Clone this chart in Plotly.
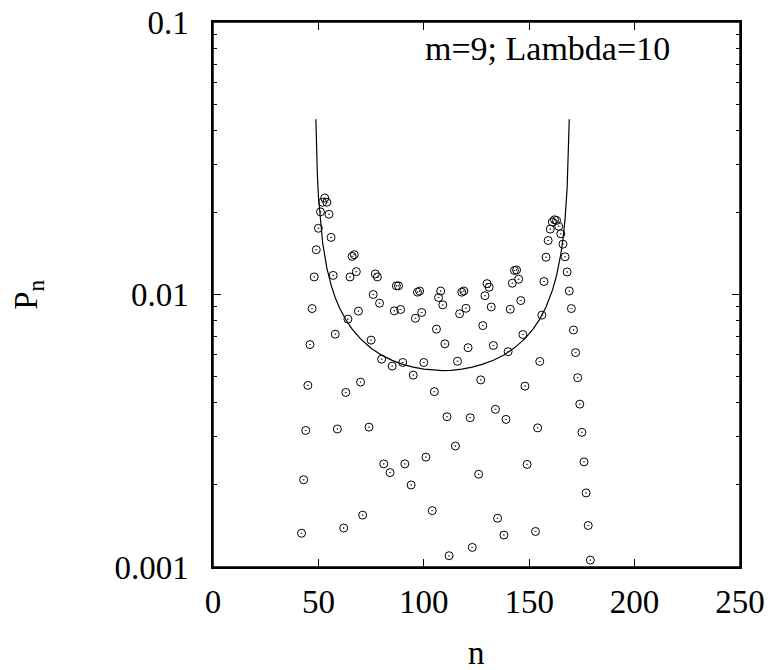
import plotly.graph_objects as go

# Discrete distribution P_n (points)
n_pts = [42, 43, 44, 45, 46, 47, 48, 49, 50, 51, 52, 53, 54, 55, 56, 57, 58, 59,
         62, 63, 64, 65, 66, 67, 68, 69, 70, 71,
         74, 75, 76, 77, 78, 79, 80, 81,
         84, 85, 86, 87, 88, 89, 90, 91,
         94, 95, 96, 97, 98, 99, 100, 101,
         104, 105, 106, 107, 108, 109, 110, 111, 112,
         115, 116, 117, 118, 119, 120, 121, 122, 123,
         126, 127, 128, 129, 130, 131, 132, 133, 134, 135,
         138, 139, 140, 141, 142, 143, 144, 145, 146, 147, 148, 149,
         153, 154, 155, 156, 157, 158, 159, 160, 161, 162, 163, 164, 165, 166,
         167, 168, 169, 170, 171, 172, 173, 174, 175, 176, 177, 178, 179]
p_pts = [0.00133, 0.00209, 0.00317, 0.00464, 0.00655, 0.00888, 0.0116, 0.0146, 0.0175,
         0.0201, 0.0218, 0.0226, 0.0218, 0.0197, 0.0162, 0.01175, 0.00715, 0.00321,
         0.00139, 0.00437, 0.00812, 0.0116, 0.0138, 0.0140, 0.01213, 0.00869, 0.00477, 0.00155,
         0.00326, 0.0068, 0.0100, 0.0119, 0.0116, 0.00929, 0.00579, 0.00239,
         0.00222, 0.00546, 0.00871, 0.01076, 0.01076, 0.00881, 0.00563, 0.00239,
         0.0020, 0.00506, 0.00818, 0.0102, 0.0103, 0.00859, 0.00563, 0.00253,
         0.00161, 0.0044, 0.00746, 0.00975, 0.0103, 0.00916, 0.00659, 0.00356, 0.0011,
         0.00278, 0.00569, 0.0085, 0.0102, 0.0103, 0.0089, 0.00638, 0.00353, 0.00118,
         0.00219, 0.00486, 0.00769, 0.0099, 0.01096, 0.01063, 0.0090, 0.0065, 0.00379, 0.00151,
         0.00131, 0.00348, 0.00617, 0.00883, 0.0110, 0.01225, 0.0123, 0.01138, 0.0095, 0.00713,
         0.00461, 0.00238,
         0.00135, 0.00324, 0.00568, 0.0084, 0.01116, 0.0137, 0.01578, 0.01738, 0.01845, 0.0188,
         0.0187, 0.0178, 0.0167, 0.0153,
         0.01375, 0.0121, 0.0103, 0.00888, 0.00741, 0.00612, 0.00495, 0.00396, 0.00312, 0.00243,
         0.00187, 0.00142, 0.00106]

# Envelope curve
n_curve = [48.8, 49, 49.5, 50, 51, 52, 54, 56, 58, 60, 63, 66, 70, 75, 80, 85, 90, 95,
           100, 105, 109, 113, 118, 123, 128, 133, 138, 143, 148, 152, 155, 158, 161,
           163, 165, 166, 167, 168, 168.5, 169.0]
p_curve = [0.0440, 0.0374, 0.0277, 0.0230, 0.01814, 0.01548, 0.01252, 0.01084, 0.00973,
           0.00894, 0.00808, 0.00746, 0.00687, 0.00635, 0.00599, 0.00573, 0.00554, 0.00541,
           0.00532, 0.00527, 0.00526, 0.00527, 0.00532, 0.00541, 0.00555, 0.00574, 0.00600,
           0.00637, 0.00689, 0.00750, 0.00812, 0.00900, 0.01035, 0.01175, 0.01405, 0.01592,
           0.01887, 0.0246, 0.0306, 0.0440]

x_ticks = [0, 50, 100, 150, 200, 250]
y_ticks = [0.001, 0.01, 0.1]
y_tick_text = ["0.001", "0.01", "0.1"]

FONT = "Liberation Serif"
FS = 33

fig = go.Figure()
fig.add_trace(go.Scatter(x=n_curve, y=p_curve, mode="lines",
                         line=dict(color="black", width=1.2), showlegend=False))
fig.add_trace(go.Scatter(x=n_pts, y=p_pts, mode="markers",
                         marker=dict(symbol="circle-open-dot", size=8, color="black",
                                     line=dict(width=1, color="black")),
                         showlegend=False))

# page has an 8px body margin; figure placed so plot area lands where the reference has it
fig.update_layout(
    width=765, height=662,
    margin=dict(l=205, r=33, t=14, b=103, autoexpand=False),
    paper_bgcolor="white", plot_bgcolor="white",
    font=dict(family=FONT, size=FS, color="black"),
    xaxis=dict(range=[0, 250], tickvals=x_ticks, ticks="inside", ticklen=8,
               tickwidth=1, tickcolor="black", showline=True, linecolor="black",
               linewidth=1.5, mirror="ticks", showgrid=False, zeroline=False,
               automargin=False, ticklabeloverflow="allow",
               ticklabelstandoff=5, tickfont=dict(size=FS, family=FONT)),
    yaxis=dict(type="log", range=[-3, -1], tickvals=y_ticks, ticktext=y_tick_text,
               ticks="inside", ticklen=8, tickwidth=1, tickcolor="black",
               showline=True, linecolor="black", linewidth=1.5, mirror="ticks",
               showgrid=False, zeroline=False, ticklabelstandoff=16,
               automargin=False, ticklabeloverflow="allow",
               tickfont=dict(size=FS, family=FONT),
               minor=dict(ticks="inside", ticklen=4, tickwidth=1, tickcolor="black",
                          dtick="D1", showgrid=False)),
    shapes=[dict(type="rect", xref="paper", yref="paper", x0=0, x1=1, y0=0, y1=1,
                 line=dict(color="black", width=1.5), layer="above")],
    annotations=[
        dict(text="m=9; Lambda=10", xref="paper", yref="paper", x=0.871, y=0.951,
             xanchor="right", yanchor="middle", showarrow=False,
             font=dict(size=34, family=FONT)),
        dict(text="n", xref="paper", yref="paper", x=(476 - 213) / 526.5, y=-(653 - 567) / 545,
             xanchor="center", yanchor="middle", showarrow=False,
             font=dict(size=FS, family=FONT)),
        dict(text="P<sub>n</sub>", xref="paper", yref="paper", x=-(213 - 28) / 526.5,
             y=(567 - 295) / 545, xanchor="center", yanchor="middle", textangle=-90,
             showarrow=False, font=dict(size=FS, family=FONT)),
    ],
)

fig.write_html("out.html")
